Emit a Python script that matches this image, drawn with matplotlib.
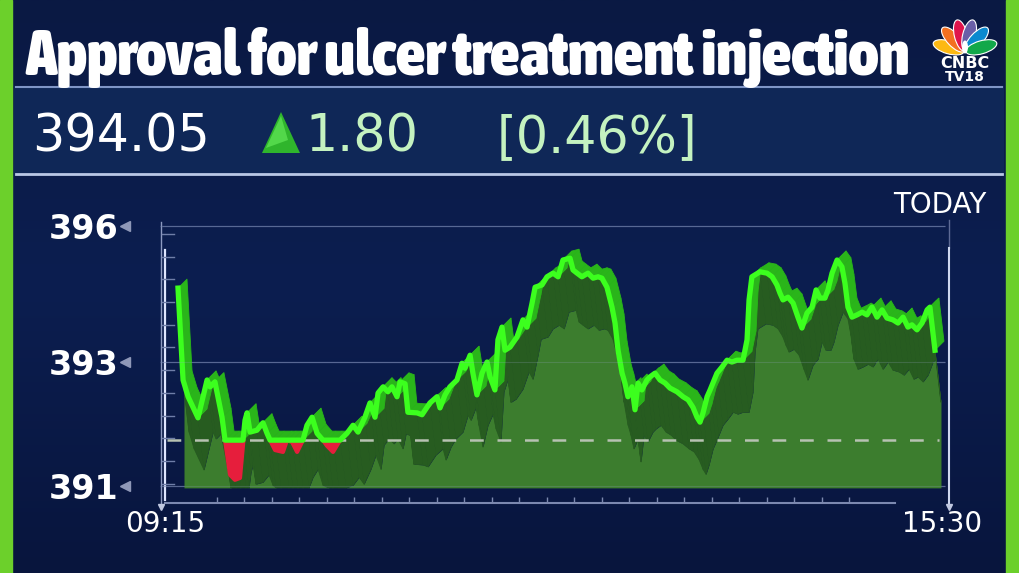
import numpy as np
import matplotlib
matplotlib.use("Agg")
import matplotlib.pyplot as plt
from matplotlib import transforms
from matplotlib import font_manager as fm
from matplotlib.patches import Rectangle, Ellipse, Polygon
from matplotlib.collections import PolyCollection
from matplotlib.colors import LinearSegmentedColormap

W, H = 1019, 573

title = "Approval for ulcer treatment injection"
last_price = "394.05"
change = "1.80"
change_pct = "[0.46%]"
period = "TODAY"
time_labels = ["09:15", "15:30"]
y_ticks = [391, 393, 396]
y_tick_labels = ["391", "393", "396"]
prev_close = 391.74

# minutes after 09:15, price
minutes = np.array([
    0, 2.5, 5, 9.9, 14.4, 15.9, 18.3, 21.8, 23.3, 25.8, 28.2, 30.7, 32.2, 33.2, 34.2,
    35.7, 39.1, 42.1, 44.1, 45.6, 48.1, 52.0, 54.0, 56.5, 59.0, 61.9, 63.9, 66.4, 68.9,
    71.8, 73.8, 76.8, 80.3, 83.7, 86.7, 89.2, 92.6, 95.1, 97.6, 99.1, 101.6, 104.0,
    106.0, 108.5, 110.0, 112.5, 113.9, 118.4, 120.9, 124.8, 128.3, 129.8, 132.3, 134.7,
    138.2, 140.7, 142.2, 144.7, 146.1, 148.1, 150.6, 153.1, 154.6, 157.0, 158.5, 160.5,
    162.0, 164.5, 167.9, 170.9, 172.9, 175.4, 176.9, 180.3, 182.8, 185.8, 188.3, 190.7,
    194.2, 195.7, 197.7, 200.1, 203.1, 205.6, 208.1, 210.0, 212.5, 215.0, 216.5, 218.0,
    220.0, 221.4, 222.9, 224.9, 226.4, 227.9, 229.8, 232.3, 233.8, 236.3, 238.8, 241.3,
    243.7, 247.2, 250.2, 252.7, 255.1, 257.1, 258.6, 260.1, 262.1, 263.6, 265.0, 267.0,
    269.5, 272.0, 274.4, 276.9, 279.9, 281.9, 282.9, 284.3, 288.3, 291.8, 294.3, 296.7,
    298.2, 299.7, 302.2, 304.7, 307.1, 309.1, 311.6, 314.1, 316.1, 318.0, 320.5, 322.0,
    324.0, 326.5, 328.9, 330.4, 331.9, 333.9, 336.4, 338.9, 341.3, 343.8, 346.3, 348.8,
    351.2, 354.2, 356.7, 359.2, 361.6, 363.6, 366.1, 368.6, 371.1, 372.5, 375.0,
])
price = np.array([
    394.63, 392.71, 392.44, 392.10, 392.71, 392.60, 392.68, 392.11, 391.74, 391.18,
    391.10, 391.13, 391.66, 392.06, 392.18, 391.87, 391.90, 392.02, 391.85, 391.74,
    391.58, 391.55, 391.74, 391.71, 391.55, 391.74, 391.98, 392.11, 391.85, 391.74,
    391.65, 391.55, 391.74, 391.85, 391.98, 391.87, 392.11, 392.34, 392.11, 392.50,
    392.60, 392.52, 392.60, 392.44, 392.68, 392.65, 392.19, 392.18, 392.15, 392.34,
    392.44, 392.26, 392.47, 392.60, 392.71, 392.98, 392.90, 393.15, 392.82, 392.47,
    392.82, 393.00, 392.76, 392.55, 393.49, 393.77, 393.26, 393.33, 393.55, 393.93,
    393.77, 394.30, 394.65, 394.70, 394.88, 394.96, 394.88, 395.25, 395.29, 395.03,
    394.96, 394.88, 394.96, 394.85, 394.88, 394.85, 394.65, 394.21, 393.86, 393.26,
    392.82, 392.66, 392.44, 392.60, 392.23, 392.66, 392.55, 392.71, 392.76, 392.82,
    392.71, 392.66, 392.58, 392.52, 392.44, 392.39, 392.27, 392.11, 392.03, 392.18,
    392.44, 392.55, 392.66, 392.82, 392.92, 393.04, 393.00, 393.04, 393.04, 393.49,
    394.37, 394.88, 394.99, 394.96, 394.88, 394.70, 394.52, 394.37, 394.43, 394.30,
    393.99, 393.75, 394.08, 394.21, 394.59, 394.41, 394.41, 394.59, 394.96, 395.25,
    395.10, 394.74, 394.21, 393.99, 394.04, 394.10, 394.04, 394.21, 393.99, 394.15,
    393.97, 393.93, 393.86, 393.99, 393.77, 393.82, 393.71, 393.86, 394.15, 394.21,
    393.26,
])

# the graphic spaces its three price labels unevenly; follow it
scale_v = [380, 391, 393, 396, 410]
scale_p = [-682, 0, 124, 260, 894.6]


def fwd(v):
    return np.interp(v, scale_v, scale_p)


def inv(p):
    return np.interp(p, scale_p, scale_v)


def narrow_bold():
    # the headline uses a heavy condensed face; take the boldest narrow one installed
    best, best_w = None, 0
    for f in fm.fontManager.ttflist:
        stretch = str(f.stretch)
        narrow = ("Narrow" in f.name or "Condensed" in f.name
                  or stretch in ("condensed", "semi-condensed", "extra-condensed",
                                 "ultra-condensed", "500", "600", "700"))
        if not narrow or "Mono" in f.name or "CJK" in f.name:
            continue
        w = f.weight if isinstance(f.weight, int) else fm.weight_dict.get(f.weight, 400)
        if best_w < w <= 900:
            best, best_w = f, w
    if best is None:
        return fm.FontProperties(family="DejaVu Sans", weight="bold")
    return fm.FontProperties(fname=best.fname)


LIME = "#6cd02b"
LINE = "#3cff1e"
RED = "#e61e3c"
NUM = "DejaVu Sans"

fig = plt.figure(figsize=(W / 100, H / 100), dpi=100)

bg = fig.add_axes([0, 0, 1, 1])
cmap = LinearSegmentedColormap.from_list("bg", ["#0a1943", "#0c1e50", "#08153d"])
bg.imshow(np.linspace(0, 1, 256)[:, None], extent=[0, W, H, 0], cmap=cmap,
          aspect="auto", zorder=0)
bg.set_xlim(0, W)
bg.set_ylim(H, 0)
bg.axis("off")

# green frame strips
bg.add_patch(Rectangle((0, 0), 12, H, color=LIME, zorder=1))
bg.add_patch(Rectangle((1006, 0), 13, H, color=LIME, zorder=1))

# quote panel
bg.add_patch(Rectangle((14, 86), 990, 90, fc="#0f2757", ec="none", zorder=1))
bg.plot([16, 1002], [87, 87], color="#7f95c6", lw=1.5, zorder=2)
bg.plot([16, 1002], [174, 174], color="#d8e4ff", lw=2, alpha=0.85, zorder=2)

head = bg.text(25, 75, title, fontproperties=narrow_bold(), fontsize=43.5,
               color="white", va="baseline", ha="left", zorder=3)
renderer = fig.canvas.get_renderer()
wd = head.get_window_extent(renderer).width
head.set_fontsize(43.5 * min(885 / wd, 1.15))

bg.text(32, 152, last_price, fontsize=36.5, family=NUM, color="white", va="baseline", zorder=3)
bg.add_patch(Polygon([(262, 153), (281, 112), (300, 153)], closed=True, fc="#2fb52c", zorder=3))
bg.add_patch(Polygon([(266, 148), (281, 116), (288, 140)], closed=True, fc="#52d84a", zorder=3))
bg.text(305, 152, change, fontsize=36.5, family=NUM, color="#c4f2c0", va="baseline", zorder=3)
bg.text(497, 152, change_pct, fontsize=36.5, family=NUM, color="#c4f2c0", va="baseline", zorder=3)

# CNBC TV18 logo
feather_colors = ["#fdb913", "#f37021", "#e0144c", "#6a5fa8", "#0a89cf", "#12a84a"]
feather_angles = [164, 133, 104, 76, 47, 16]
px, py = 965, 52
for c, a in zip(feather_colors, feather_angles):
    r = np.radians(a)
    bg.add_patch(Ellipse((px + 17 * np.cos(r), py - 17 * np.sin(r)), 32, 13, angle=-a,
                         fc=c, ec="white", lw=0.8, zorder=3))
bg.add_patch(Ellipse((px, py - 5), 6, 13, fc="white", ec="none", zorder=4))
bg.text(px, 68.5, "CNBC", fontsize=11.5, family=NUM, weight="bold", color="white",
        ha="center", va="baseline", zorder=4)
bg.text(px, 81, "TV18", fontsize=10, family=NUM, weight="bold", color="white",
        ha="center", va="baseline", zorder=4)

bg.text(987, 213, period, fontsize=20, family=NUM, color="white", ha="right",
        va="baseline", zorder=3)

# axis frame drawn like the graphic
bg.plot([161, 161], [222, 505], color="#8d9ac0", lw=1, zorder=2)
bg.plot([165, 165], [250, 500], color="#dfe6ff", lw=1.6, zorder=2)
bg.plot([161], [507], marker="v", ms=5, color="#c0c8e0", zorder=2)
for yy in np.arange(234, 490, 22.7):
    bg.plot([162, 174], [yy, yy], color="#6f7ea8", lw=1, zorder=2)
bg.plot([165, 895], [503, 503], color="#7c89b0", lw=1.5, zorder=2)
bg.vlines(np.arange(217, 850, 27.5), 497, 503, color="#7c89b0", lw=1, zorder=2)
bg.plot([949, 949], [220, 248], color="#5d6a95", lw=1, zorder=2)
bg.plot([949, 949], [248, 503], color="#cfd8f0", lw=1.5, zorder=2)
bg.plot([949], [507], marker="v", ms=5, color="#c0c8e0", zorder=2)

bg.text(165, 532, time_labels[0], fontsize=20, family=NUM, color="white", ha="center",
        va="baseline", zorder=3)
bg.text(942, 532, time_labels[1], fontsize=20, family=NUM, color="white", ha="center",
        va="baseline", zorder=3)

# price chart
ax = fig.add_axes([163 / W, (H - 505) / H, 786 / W, 290 / H])
ax.patch.set_alpha(0)
ax.set_yscale("function", functions=(fwd, inv))
ax.set_xlim(-7.43, 381.95)
ax.set_ylim(390.694, 396.243)
for s in ax.spines.values():
    s.set_visible(False)
ax.set_xticks([])
ax.set_yticks(y_ticks, y_tick_labels)
ax.tick_params(axis="y", length=0, pad=32, labelsize=24, labelcolor="white")
for lab in ax.get_yticklabels():
    lab.set_fontweight("bold")
    lab.set_family(NUM)

ax.hlines(y_ticks, -8.9, 380, colors="#7888b4", lw=0.9, alpha=0.55, clip_on=False, zorder=1)
ax.hlines(y_ticks, -8.9, 380, colors="#9aa8cc", lw=0.8, alpha=0.22, zorder=7)
tri = transforms.blended_transform_factory(ax.transAxes, ax.transData)
ax.plot([-0.048] * 3, y_ticks, ls="none", marker="<", ms=7, color="#8f98b8",
        transform=tri, clip_on=False)

bottom = 390.97
top = np.maximum(price, prev_close)
front = np.column_stack([minutes, top])


def shifted(dx, dy):
    pts = ax.transData.transform(front)
    out = ax.transData.inverted().transform(pts + [dx, dy])
    out[:, 1] = np.maximum(out[:, 1], bottom)
    return out


def band(dx, dy, color, z):
    b = shifted(dx, dy)
    polys = [[front[i], front[i + 1], b[i + 1], b[i]] for i in range(len(front) - 1)]
    ax.add_collection(PolyCollection(polys, fc=color, ec=color, lw=0.6, zorder=z))


back = shifted(6, -52)
ax.fill_between(back[:, 0], back[:, 1], bottom, color="#3c7d2e", lw=0, zorder=2)
band(6, -52, "#275c20", 3)
band(9, 9, "#2ab51a", 4)

ax.hlines(prev_close, -5.5, 377, colors="#b7c2b2", lw=1.8, linestyles=(0, (5.5, 5.5)),
          zorder=5)
ax.fill_between(minutes, price, prev_close, where=price < prev_close, interpolate=True,
                fc=RED, ec=RED, lw=3, zorder=5.5)
ax.plot(minutes, top, color=LINE, lw=3.8, solid_joinstyle="round", zorder=6)

fig.savefig("out.png", dpi=100)
